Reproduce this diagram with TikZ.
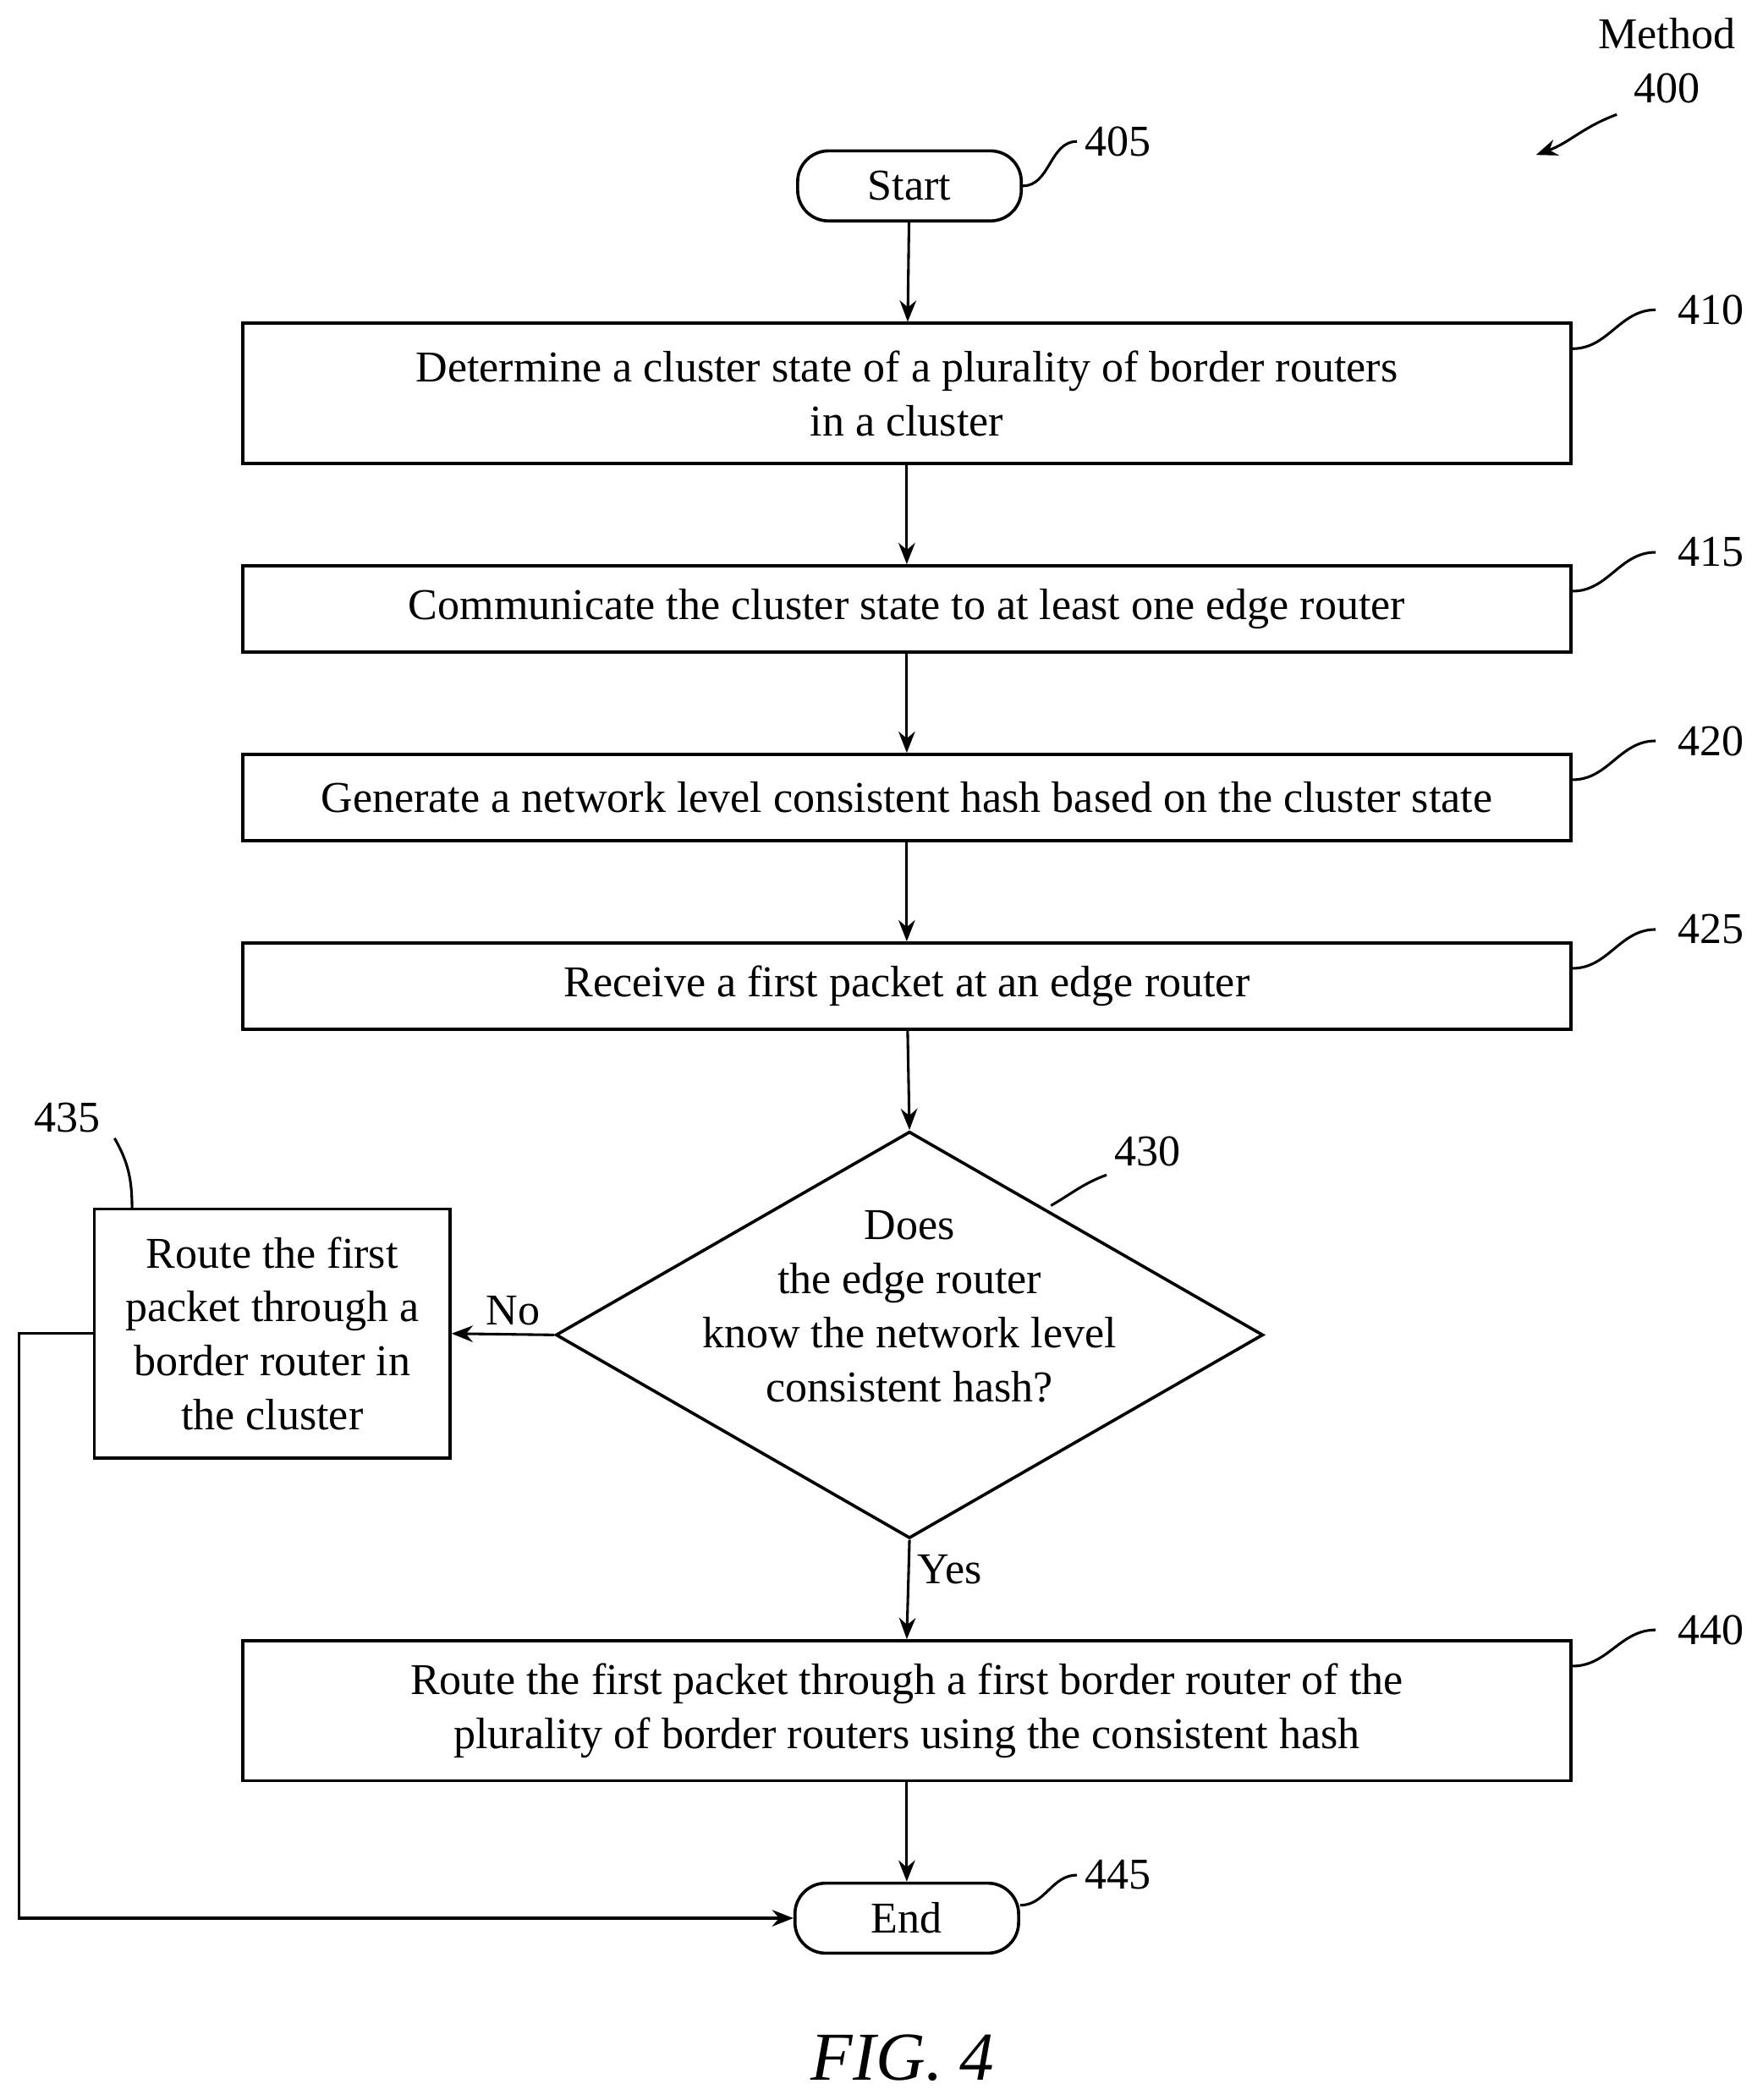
\documentclass[tikz,border=0pt]{standalone}
\usepackage{fontspec}
\setmainfont{Liberation Serif}
\usetikzlibrary{calc, arrows.meta, positioning, shapes.geometric}

\begin{document}
\begin{tikzpicture}[x=0.02cm, y=-0.02cm, >={Stealth[length=9pt, width=7pt]}, font=\fontsize{18.6}{22.8}\selectfont]
	\tikzstyle{box} = [line width=1.3pt, draw=black, rectangle, minimum width=986*0.02cm, align=center, inner sep=0pt]
	\tikzstyle{term} = [line width=1.3pt, draw=black, rounded corners=13pt, minimum width=166*0.02cm, minimum height=52*0.02cm]
	\tikzstyle{arrow} = [line width=1.1pt, ->]
	\tikzstyle{lead} = [line width=1.1pt]

	\useasboundingbox (0,0) rectangle (1300,1559);

	\node[term]	at (675, 138)	(start)	{Start};
	\node[box, minimum height=104*0.02cm]	at (673, 292)	(b410)	{Determine a cluster state of a plurality of border routers\\in a cluster};
	\node[box, minimum height=64*0.02cm]	at (673, 452)	(b415)	{Communicate the cluster state to at least one edge router};
	\node[box, minimum height=64*0.02cm]	at (673, 592)	(b420)	{Generate a network level consistent hash based on the cluster state};
	\node[box, minimum height=64*0.02cm]	at (673, 732)	(b425)	{Receive a first packet at an edge router};
	\node[diamond, line width=1.3pt, draw, aspect=1.74, minimum width=525*0.02cm, minimum height=302*0.02cm, inner sep=0pt, align=center]
				at (675, 991)	(d430)	{};
	\node[align=center]	at (675, 970)	(t430)	{Does\\the edge router\\know the network level\\consistent hash?};
	\node[box, minimum width=264*0.02cm, minimum height=185*0.02cm]	at (202, 990)	(b435)	{Route the first\\packet through a\\border router in\\the cluster};
	\node[box, minimum height=104*0.02cm]	at (673, 1270)	(b440)	{Route the first packet through a first border router of the\\plurality of border routers using the consistent hash};
	\node[term]	at (673, 1424)	(end)	{End};

	% reference numerals
	\node	at (830, 105)	(l405)	{405};
	\node	at (1270, 230)	(l410)	{410};
	\node	at (1270, 410)	(l415)	{415};
	\node	at (1270, 550)	(l420)	{420};
	\node	at (1270, 690)	(l425)	{425};
	\node	at (852, 855)	(l430)	{430};
	\node	at (50, 830)	(l435)	{435};
	\node	at (1270, 1210)	(l440)	{440};
	\node	at (830, 1392)	(l445)	{445};
	\node[align=center]	at (1237, 45)	(meth)	{Method\\400};
	\node[font=\itshape\fontsize{29}{34}\selectfont]	at (670, 1528)	(fig)	{FIG. 4};

	\draw [arrow]	(start) -- (b410);
	\draw [arrow]	(b410) -- (b415);
	\draw [arrow]	(b415) -- (b420);
	\draw [arrow]	(b420) -- (b425);
	\draw [arrow]	(b425) -- (d430.north);
	\draw [arrow]	(d430.west) -- (b435.east)	node	[pos=0.4, above]	{No};
	\draw [arrow]	(d430.south) -- (b440.north)	node	[pos=0.3, right]	{Yes};
	\draw [arrow]	(b440) -- (end);
	\draw [arrow]	(b435.west) -| (14, 1424) -- (end.west);

	\draw [lead]	(start.east) to[out=0, in=180] (l405.west);
	\foreach \b in {410, 415, 420, 425, 440}
		\draw [lead]	([yshift=-20*0.02cm]b\b.north east) to[out=0, in=180] ([xshift=-6pt]l\b.west);
	\draw [lead]	([yshift=-10pt]end.north east) to[out=0, in=180] (l445.west);
	\draw [lead]	(780, 895) to[out=30, in=200] (l430.south west);
	\draw [lead]	(98, 898) to[out=90, in=-60] (85, 845);
	\draw [arrow]	(1200, 85) to[out=200, in=20] (1140, 115);
\end{tikzpicture}
\end{document}
